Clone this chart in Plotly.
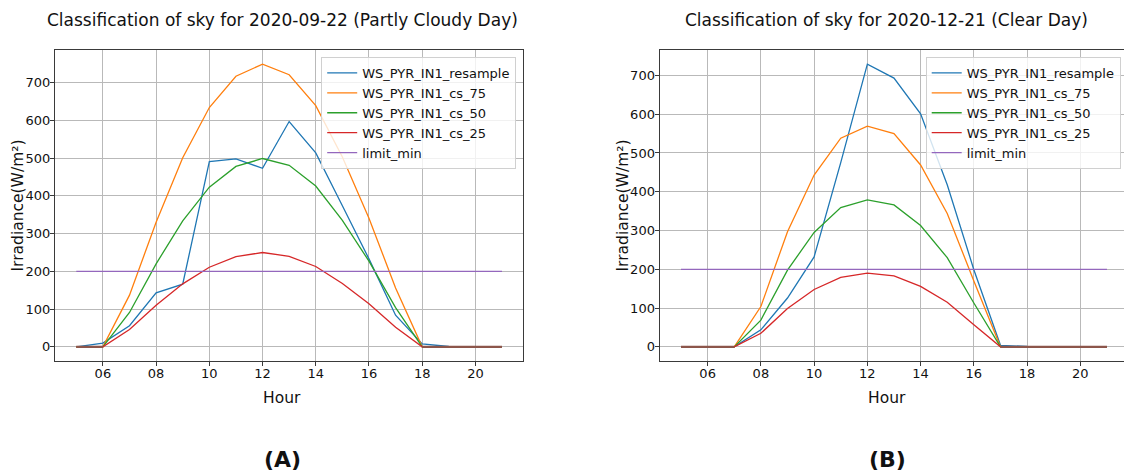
import plotly.graph_objects as go

W, H = 1124, 475
FONT = "DejaVu Sans"

# ---------------- data ----------------
hours = [5, 6, 7, 8, 9, 10, 11, 12, 13, 14, 15, 16, 17, 18, 19, 20, 21]
tick_vals = [6, 8, 10, 12, 14, 16, 18, 20]
tick_text = ["06", "08", "10", "12", "14", "16", "18", "20"]
y_ticks = [0, 100, 200, 300, 400, 500, 600, 700]
series_names = ["WS_PYR_IN1_resample", "WS_PYR_IN1_cs_75", "WS_PYR_IN1_cs_50",
                "WS_PYR_IN1_cs_25", "limit_min"]

# (A) 2020-09-22 Partly Cloudy Day
resample_a = [0, 10, 56, 143, 166, 491, 498, 473, 597, 514, 374, 233, 84, 8, 1, 0, 0]
cs75_a = [0, 0, 137, 330, 501, 634, 717, 749, 721, 639, 503, 341, 156, 0, 0, 0, 0]
cs50_a = [0, 0, 91, 220, 334, 423, 478, 499, 481, 426, 335, 227, 104, 0, 0, 0, 0]
cs25_a = [0, 0, 46, 110, 167, 211, 239, 250, 240, 213, 168, 114, 52, 0, 0, 0, 0]
limit_a = [200, 200, 200, 200, 200, 200, 200, 200, 200, 200, 200, 200, 200, 200, 200, 200, 200]
night_a = [0, 0, None, None, None, None, None, None, None, None, None, None, None, 0, 0, 0, 0]

# (B) 2020-12-21 Clear Day
resample_b = [0, 0, 0, 44, 126, 232, 475, 729, 693, 601, 418, 199, 4, 1, 0, 0, 0]
cs75_b = [0, 0, 0, 104, 297, 443, 538, 569, 550, 469, 344, 170, 0, 0, 0, 0, 0]
cs50_b = [0, 0, 0, 69, 198, 295, 359, 379, 366, 313, 230, 113, 0, 0, 0, 0, 0]
cs25_b = [0, 0, 0, 35, 99, 148, 179, 190, 183, 156, 115, 57, 0, 0, 0, 0, 0]
limit_b = [200, 200, 200, 200, 200, 200, 200, 200, 200, 200, 200, 200, 200, 200, 200, 200, 200]
night_b = [0, 0, 0, None, None, None, None, None, None, None, None, None, 0, 0, 0, 0, 0]

title_a = "Classification of sky for 2020-09-22 (Partly Cloudy Day)"
title_b = "Classification of sky for 2020-12-21 (Clear Day)"

colors = ["#1f77b4", "#ff7f0e", "#2ca02c", "#d62728", "#9467bd"]
night_color = "#8c564b"

# ---------------- figure ----------------
fig = go.Figure()


def px_x(x):
    return x / W


def px_y(y):
    return 1 - y / H


def add_panel(series, night, xa, ya, legend):
    for name, vals, col in zip(series_names, series, colors):
        fig.add_trace(go.Scatter(
            x=hours, y=vals, mode="lines", name=name,
            line=dict(color=col, width=1.3),
            xaxis=xa, yaxis=ya, legend=legend))
    fig.add_trace(go.Scatter(
        x=hours, y=night, mode="lines", showlegend=False,
        line=dict(color=night_color, width=2.3),
        connectgaps=False, xaxis=xa, yaxis=ya))


add_panel([resample_a, cs75_a, cs50_a, cs25_a, limit_a], night_a, "x", "y", "legend")
add_panel([resample_b, cs75_b, cs50_b, cs25_b, limit_b], night_b, "x2", "y2", "legend2")


def yrange(*arrs):
    vals = [v for a in arrs for v in a if v is not None]
    lo, hi = min(vals), max(vals)
    pad = 0.05 * (hi - lo)
    return [lo - pad, hi + pad]


grid = "#b9b9b9"
spine = "#3a3a3a"
tickfont = dict(family=FONT, size=13, color="#111")

common_x = dict(tickvals=tick_vals, ticktext=tick_text, showgrid=True,
                gridcolor=grid, gridwidth=1.2, zeroline=False,
                showline=True, linecolor=spine, linewidth=1.3,
                ticks="outside", ticklen=4, tickcolor=spine, tickwidth=1,
                ticklabelstandoff=-4, tickfont=tickfont)
common_y = dict(tickvals=y_ticks,
                showgrid=True, gridcolor=grid, gridwidth=1.2, zeroline=False,
                showline=True, linecolor=spine, linewidth=1.3,
                ticks="outside", ticklen=4, tickcolor=spine, tickwidth=1,
                ticklabelstandoff=-3, tickfont=tickfont)

y_dom = [px_y(361), px_y(50)]

fig.update_layout(
    width=W, height=H,
    margin=dict(l=0, r=0, t=0, b=0),
    paper_bgcolor="white", plot_bgcolor="white",
    font=dict(family=FONT, color="#111"),
    xaxis=dict(domain=[px_x(55), px_x(523.3)], range=[4.2, 21.8],
               anchor="y", mirror=True, **common_x),
    yaxis=dict(domain=y_dom, anchor="x", mirror=True,
               range=yrange(resample_a, cs75_a, cs50_a, cs25_a, limit_a),
               **common_y),
    xaxis2=dict(domain=[px_x(659.7), 1.0], range=[4.2, 21.64],
                anchor="y2", mirror=True, **common_x),
    yaxis2=dict(domain=y_dom, anchor="x2", mirror=False,
                range=yrange(resample_b, cs75_b, cs50_b, cs25_b, limit_b),
                **common_y),
    legend=dict(x=px_x(516.2), xanchor="right", y=px_y(57), yanchor="top",
                bgcolor="rgba(255,255,255,0.8)", bordercolor="#d0d0d0",
                borderwidth=1, font=dict(family=FONT, size=13, color="#111"),
                itemwidth=30, tracegroupgap=0),
    legend2=dict(x=px_x(1120.7), xanchor="right", y=px_y(57), yanchor="top",
                 bgcolor="rgba(255,255,255,0.8)", bordercolor="#d0d0d0",
                 borderwidth=1, font=dict(family=FONT, size=13, color="#111"),
                 itemwidth=30, tracegroupgap=0),
    showlegend=True,
)


def label(text, x, y, size, bold=False, angle=0):
    fig.add_annotation(
        text=f"<b>{text}</b>" if bold else text,
        x=px_x(x), y=px_y(y), xref="paper", yref="paper",
        xanchor="center", yanchor="middle", showarrow=False,
        textangle=angle, font=dict(family=FONT, size=size, color="#111"))


label(title_a, 282, 20, 17)
label(title_b, 886, 20, 17)
label("Hour", 282, 398, 15.5)
label("Hour", 887, 398, 15.5)
label("Irradiance(W/m²)", 17, 205.5, 15.5, angle=-90)
label("Irradiance(W/m²)", 622, 205.5, 15.5, angle=-90)
label("(A)", 282, 459, 22, bold=True)
label("(B)", 887, 459, 22, bold=True)

fig.write_html(
    "out.html",
    config={"displayModeBar": False},
    post_script="document.body.style.margin='0';"
                "document.body.style.overflow='hidden';"
                "document.documentElement.style.overflow='hidden';",
)
